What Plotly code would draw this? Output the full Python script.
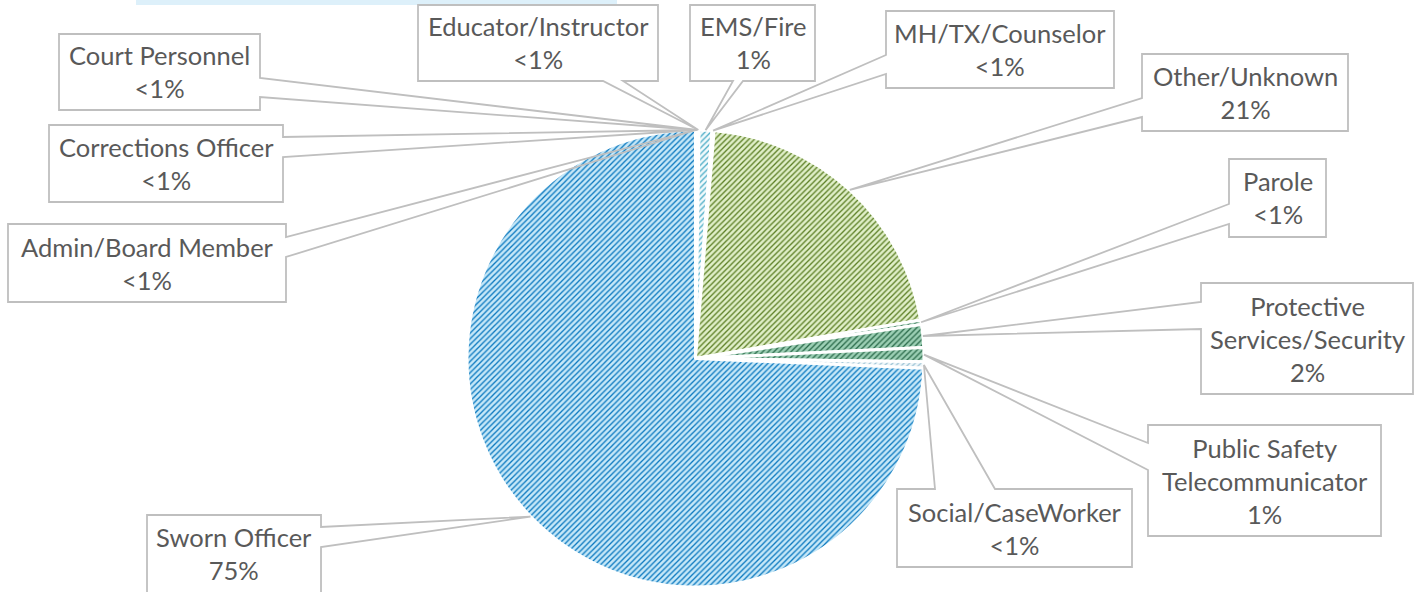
import math
import plotly.graph_objects as go

# ---------------- data ----------------
categories = ["Admin/Board Member", "Corrections Officer", "Court Personnel",
              "Educator/Instructor", "EMS/Fire", "MH/TX/Counselor", "Other/Unknown",
              "Parole", "Protective Services/Security", "Public Safety Telecommunicator",
              "Social/CaseWorker", "Sworn Officer"]
values = [0.05, 0.05, 0.05, 0.1, 0.9, 0.15, 21.0, 0.33, 1.6, 1.0, 0.45, 74.32]
pct_labels = ["<1%", "<1%", "<1%", "<1%", "1%", "<1%", "21%", "<1%", "2%", "1%", "<1%", "75%"]
label_names = ["Admin/Board Member", "Corrections Officer", "Court Personnel",
               "Educator/Instructor", "EMS/Fire", "MH/TX/Counselor", "Other/Unknown",
               "Parole", "Protective<br>Services/Security", "Public Safety<br>Telecommunicator",
               "Social/CaseWorker", "Sworn Officer"]

# ---------------- styles ----------------
bg_colors = ["#cfe3f0", "#d7e6f2", "#dcecc0", "#e2efc6", "#f2fafc", "#d7eef3", "#e0efc8",
             "#a9d3bd", "#9ccfb4", "#9ccfb4", "#eef6f9", "#c6e8f8"]
fg_colors = ["#2e75b6", "#2e75b6", "#6f9a2e", "#86ad45", "#4bacc6", "#4bacc6", "#5b7e24",
             "#2c6e4d", "#2b6b4b", "#2b6b4b", "#9cc3d5", "#0b78bf"]

W, H = 1418, 592
CX, CY, R = 695.5, 358.5, 228.5
TEXT_COLOR = "#595959"
LINE_COLOR = "#bfbfbf"

# label boxes (pixel coords): x0, y0, x1, y1, side of wedge, attach a1, attach a2
boxes = [
    (8, 224, 286, 302, "right", 237, 257),
    (49, 125, 283, 202, "right", 137, 157),
    (59, 34, 260, 110, "right", 78, 97),
    (418, 5, 658, 81, "bottom", 603, 623),
    (690, 5, 815, 81, "bottom", 733, 743),
    (886, 11, 1114, 88, "left", 55, 74),
    (1142, 54, 1348, 131, "left", 98, 117),
    (1229, 159, 1326, 237, "left", 204, 224),
    (1201, 283, 1413, 394, "left", 302, 329),
    (1148, 425, 1381, 536, "left", 443, 470),
    (897, 489, 1132, 567, "top", 935, 995),
    (147, 515, 321, 600, "right", 527, 547),
]


def px(x):
    return x / W


def py(y):
    return 1 - y / H


fig = go.Figure()
fig.add_trace(go.Pie(
    labels=categories,
    values=values,
    sort=False,
    direction="clockwise",
    rotation=0,
    textinfo="none",
    hoverinfo="label+percent",
    showlegend=False,
    domain=dict(x=[px(CX - R), px(CX + R)], y=[py(CY + R), py(CY - R)]),
    marker=dict(
        colors=bg_colors,
        line=dict(color="white", width=3),
        pattern=dict(shape="/", bgcolor=bg_colors, fgcolor=fg_colors,
                     size=4, solidity=0.33, fillmode="replace"),
    ),
))

# leader tips computed from the data (slice mid-angle on pie edge)
total = sum(values)
cum = 0.0
shapes = []
annotations = []
for i, v in enumerate(values):
    mid = 360.0 * (cum + v / 2) / total
    cum += v
    th = math.radians(mid)
    tx = CX + R * math.sin(th)
    ty = CY - R * math.cos(th)
    x0, y0, x1, y1, side, a1, a2 = boxes[i]
    if side == "right":
        pts = [(x0, y0), (x1, y0), (x1, a1), (tx, ty), (x1, a2), (x1, y1), (x0, y1)]
    elif side == "left":
        pts = [(x0, y0), (x1, y0), (x1, y1), (x0, y1), (x0, a2), (tx, ty), (x0, a1)]
    elif side == "bottom":
        pts = [(x0, y0), (x1, y0), (x1, y1), (a2, y1), (tx, ty), (a1, y1), (x0, y1)]
    else:  # top
        pts = [(x0, y0), (a1, y0), (tx, ty), (a2, y0), (x1, y0), (x1, y1), (x0, y1)]
    path = "M " + " L ".join(f"{px(a):.5f},{py(b):.5f}" for a, b in pts) + " Z"
    shapes.append(dict(type="path", path=path, xref="paper", yref="paper",
                       line=dict(color=LINE_COLOR, width=1.8),
                       fillcolor="rgba(0,0,0,0)", layer="above"))
    yc = (y0 + y1) / 2 if y1 <= H else (y0 + 591) / 2
    annotations.append(dict(
        x=px((x0 + x1) / 2), y=py(yc),
        xref="paper", yref="paper", xanchor="center", yanchor="middle",
        text=f"{label_names[i]}<br>{pct_labels[i]}", showarrow=False,
        align="center", font=dict(family="Lato, Noto Sans, sans-serif", size=25.5,
                                  color=TEXT_COLOR)))

# light blue strip at the top-left
shapes.append(dict(type="rect", xref="paper", yref="paper",
                   x0=px(136), x1=px(617), y0=py(5), y1=py(0),
                   fillcolor="#ddf0fa", line=dict(width=0), layer="below"))

fig.update_layout(
    width=W, height=H,
    margin=dict(l=0, r=0, t=0, b=0),
    paper_bgcolor="white", plot_bgcolor="white",
    shapes=shapes, annotations=annotations,
)

fig.write_html("out.html", config={"displayModeBar": False},
               post_script="document.body.style.margin='0';document.body.style.overflow='hidden';")
